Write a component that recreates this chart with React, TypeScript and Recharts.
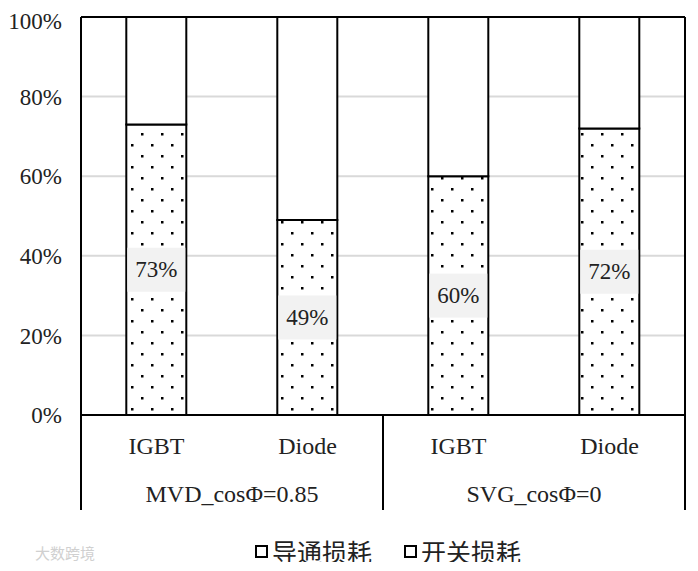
import { BarChart, Bar, XAxis, YAxis, CartesianGrid, Legend, LabelList, usePlotArea } from 'recharts'

// device / group labels
const devices = ['IGBT', 'Diode', 'IGBT', 'Diode']
const groups = ['MVD_cosΦ=0.85', 'MVD_cosΦ=0.85', 'SVG_cosΦ=0', 'SVG_cosΦ=0']
const groupNames = ['MVD_cosΦ=0.85', 'SVG_cosΦ=0']

// share of losses, %
const conduction = [73, 49, 60, 72] // 导通损耗
const switching = [27, 51, 40, 28]  // 开关损耗

const yTicks = [0, 20, 40, 60, 80, 100]

const data = devices.map((d, i) => ({
  key: `${groups[i]}-${d}-${i}`,
  device: d,
  group: groups[i],
  conduction: conduction[i],
  switching: switching[i],
}))

const SERIF = '"Liberation Serif", "Times New Roman", serif'
const CJK = '"Noto Sans CJK SC", sans-serif'
const AXIS_DEPTH = 95

function Frame() {
  const plot = usePlotArea()
  if (!plot) return null
  const { x, y, width, height } = plot
  const bottom = y + height + AXIS_DEPTH
  const n = groupNames.length
  const lines = []
  for (let i = 0; i <= n; i++) {
    const lx = x + (width * i) / n
    const top = i === 0 || i === n ? y : y + height
    lines.push(<line key={i} x1={lx} x2={lx} y1={top} y2={bottom} stroke="#000" strokeWidth={2} />)
  }
  return (
    <g>
      <line x1={x} x2={x + width} y1={y} y2={y} stroke="#000" strokeWidth={2} />
      {lines}
    </g>
  )
}

function AxisText({ x, y, value }: any) {
  return (
    <text x={x} y={y + 29} textAnchor="middle" dominantBaseline="central" fontFamily={SERIF} fontSize={24} fill="#222">
      {value}
    </text>
  )
}

function ShareLabel(props: any) {
  const vb = props.viewBox || {}
  const x = props.x ?? vb.x
  const y = props.y ?? vb.y
  const width = props.width ?? vb.width
  const height = props.height ?? vb.height
  const cy = y + height / 2
  return (
    <g>
      <rect x={x + 1} y={cy - 22} width={width - 2} height={44} fill="#f2f2f2" />
      <text x={x + width / 2} y={cy} textAnchor="middle" dominantBaseline="central" fontFamily={SERIF} fontSize={23} fill="#222">
        {`${props.value}%`}
      </text>
    </g>
  )
}

function LegendBox() {
  const items = [
    { name: '导通损耗', ml: 0 },
    { name: '开关损耗', ml: 32 },
  ]
  return (
    <div style={{ position: 'relative', height: 38, display: 'flex', alignItems: 'center', paddingLeft: 247 }}>
      <span style={{ position: 'absolute', left: 27, top: 10, fontFamily: CJK, fontSize: 15, color: '#d0d0d0' }}>大数跨境</span>
      {items.map((it) => (
        <span key={it.name} style={{ display: 'flex', alignItems: 'center', marginLeft: it.ml }}>
          <span style={{ width: 9, height: 9, border: '2px solid #000', background: '#fff', marginRight: 4 }} />
          <span style={{ fontFamily: CJK, fontSize: 25, color: '#222', lineHeight: '38px' }}>{it.name}</span>
        </span>
      ))}
    </div>
  )
}

export default function App() {
  return (
    <div style={{ width: 682, height: 562, marginBottom: -8 }}>
      <svg width={0} height={0} style={{ position: 'absolute' }}>
        <defs>
          <pattern id="dots" width={20} height={22} patternUnits="userSpaceOnUse">
            <rect width={20} height={22} fill="#fff" />
            <rect x={3} y={4} width={2.5} height={2.5} fill="#000" />
            <rect x={13} y={15} width={2.5} height={2.5} fill="#000" />
          </pattern>
        </defs>
      </svg>
      <BarChart
        width={682}
        height={562}
        data={data}
        margin={{ top: 9, right: 5, bottom: 0, left: 0 }}
        barCategoryGap="30%"
      >
        <CartesianGrid vertical={false} stroke="#d9d9d9" strokeWidth={2} />
        <XAxis
          dataKey="key"
          height={48}
          tick={(p: any) => <AxisText x={p.x} y={p.y} value={data[p.index]?.device} />}
          tickLine={false}
          tickSize={0}
          axisLine={{ stroke: '#000', strokeWidth: 2 }}
          interval={0}
        />
        <XAxis
          xAxisId="group"
          dataKey="group"
          allowDuplicatedCategory={false}
          height={69}
          tick={(p: any) => <AxisText x={p.x} y={p.y} value={p.payload.value} />}
          tickLine={false}
          tickSize={0}
          axisLine={false}
          interval={0}
        />
        <YAxis
          width={73}
          domain={[0, 100]}
          ticks={yTicks}
          tickFormatter={(v: number) => `${v}%`}
          tick={{ fill: '#222', fontSize: 23, fontFamily: SERIF }}
          tickLine={false}
          tickSize={0}
          tickMargin={19}
          axisLine={false}
        />
        <Legend verticalAlign="bottom" content={<LegendBox />} wrapperStyle={{ left: 0, width: 682 }} />
        <Bar dataKey="conduction" name="导通损耗" stackId="a" fill="url(#dots)" stroke="#000" strokeWidth={2} isAnimationActive={false}>
          <LabelList dataKey="conduction" content={<ShareLabel />} />
        </Bar>
        <Bar dataKey="switching" name="开关损耗" stackId="a" fill="#fff" stroke="#000" strokeWidth={2} isAnimationActive={false} />
        <Frame />
      </BarChart>
    </div>
  )
}
